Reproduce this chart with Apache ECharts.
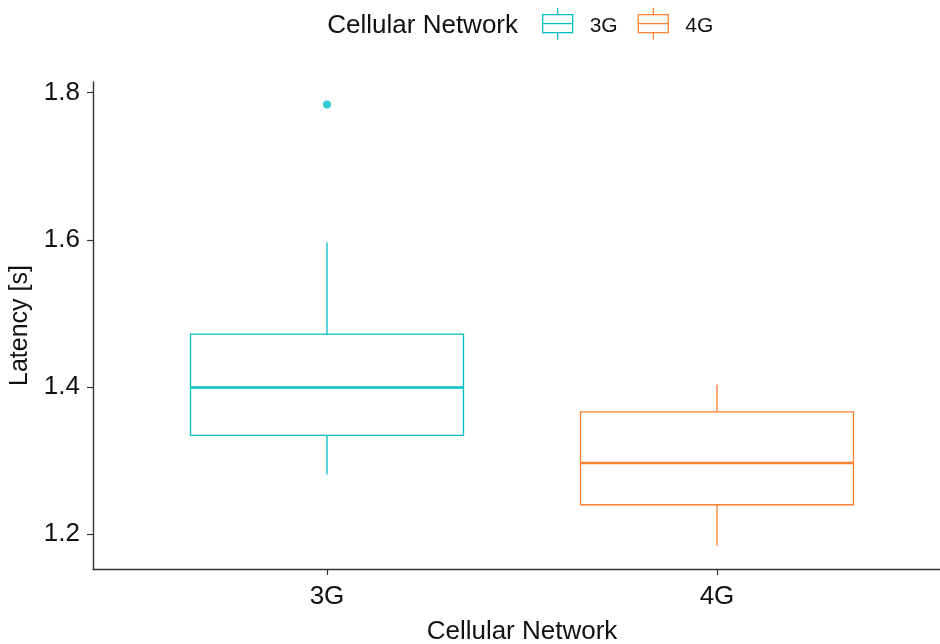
<!DOCTYPE html>
<html>
<head>
<meta charset="utf-8">
<script src="https://cdn.jsdelivr.net/npm/echarts@6/dist/echarts.min.js"></script>
<style>
  html, body { margin: 0; padding: 0; background: #fff; }
  #chart { width: 940px; height: 644px; }
</style>
</head>
<body>
<div id="chart"></div>
<script>
// Latency per cellular network: box-plot summary statistics
const networks = ['3G', '4G'];
// [lowerWhisker, Q1, median, Q3, upperWhisker]
const stats3G = [1.2814, 1.3344, 1.3995, 1.4719, 1.5964];
const stats4G = [1.1845, 1.2402, 1.2968, 1.3664, 1.4036];
const outliers3G = [1.7837];
const outliers4G = [];
const yTicks = [1.2, 1.4, 1.6, 1.8];

const colors = { '3G': '#00BFC4', '4G': '#FF8032' };
const FONT = '"Liberation Sans", Arial, sans-serif';
const BOX_WIDTH = 0.7;

function renderBox(params, api) {
  const x = api.value(0);
  const lo = api.coord([x, api.value(1)]);
  const q1 = api.coord([x, api.value(2)]);
  const md = api.coord([x, api.value(3)]);
  const q3 = api.coord([x, api.value(4)]);
  const hi = api.coord([x, api.value(5)]);
  const half = api.size([BOX_WIDTH, 0])[0] / 2;
  const color = api.visual('color');
  const thin = { stroke: color, lineWidth: 1.3, fill: null };
  return {
    type: 'group',
    children: [
      { type: 'line', shape: { x1: hi[0], y1: hi[1], x2: q3[0], y2: q3[1] }, style: thin },
      { type: 'line', shape: { x1: q1[0], y1: q1[1], x2: lo[0], y2: lo[1] }, style: thin },
      { type: 'rect', shape: { x: q3[0] - half, y: q3[1], width: half * 2, height: q1[1] - q3[1] },
        style: { stroke: color, lineWidth: 1.3, fill: 'rgba(255,255,255,0)' } },
      { type: 'line', shape: { x1: md[0] - half, y1: md[1], x2: md[0] + half, y2: md[1] },
        style: { stroke: color, lineWidth: 2.6 } }
    ]
  };
}

const boxData = { '3G': stats3G, '4G': stats4G };
const outlierData = { '3G': outliers3G, '4G': outliers4G };

const series = [];
networks.forEach(function (name, i) {
  series.push({
    name: name,
    type: 'custom',
    renderItem: renderBox,
    itemStyle: { color: colors[name] },
    encode: { x: 0, y: [1, 2, 3, 4, 5] },
    data: [[i + 1].concat(boxData[name])],
    z: 3
  });
  series.push({
    name: name,
    type: 'scatter',
    symbol: 'circle',
    symbolSize: 8,
    itemStyle: { color: colors[name] },
    data: outlierData[name].map(function (v) { return [i + 1, v]; }),
    z: 4
  });
});

const boxIcon = 'path://M15,0L15,7M0,7L30,7L30,25L0,25ZM0,16L30,16M15,25L15,32';

const chart = echarts.init(document.getElementById('chart'));
chart.setOption({
  animation: false,
  backgroundColor: '#fff',
  textStyle: { fontFamily: FONT },
  grid: { left: 93, top: 82, right: -11, bottom: 75, outerBoundsMode: 'none', containLabel: false },
  graphic: [{
    type: 'text',
    right: 422,
    top: 13,
    style: { text: 'Cellular Network', fontFamily: FONT, fontSize: 26, fill: '#111' }
  }],
  legend: {
    left: 542,
    top: 7,
    padding: 0,
    itemWidth: 30,
    itemHeight: 32,
    itemGap: 20,
    formatter: '{n|{name}}',
    textStyle: {
      fontFamily: FONT, fontSize: 21, color: '#111', padding: [0, 0, 0, 12],
      rich: { n: { fontFamily: FONT, fontSize: 21, color: '#111', padding: [5, 0, 0, 0] } }
    },
    data: networks.map(function (n) {
      return {
        name: n,
        icon: boxIcon,
        itemStyle: { color: 'rgba(0,0,0,0)', borderColor: colors[n], borderWidth: 1.3 }
      };
    })
  },
  xAxis: {
    type: 'value',
    min: 0.4,
    max: 2.6,
    name: 'Cellular Network',
    nameLocation: 'middle',
    nameGap: 50,
    nameTextStyle: { fontFamily: FONT, fontSize: 26, color: '#111' },
    splitLine: { show: false },
    axisLine: { show: true, onZero: false, lineStyle: { color: '#333', width: 1.4 } },
    axisTick: { show: true, length: 6, customValues: [1, 2], lineStyle: { color: '#333', width: 1.2 } },
    axisLabel: {
      customValues: [1, 2],
      margin: 15,
      fontFamily: FONT,
      fontSize: 26,
      color: '#111',
      formatter: function (v) { return networks[Math.round(v) - 1] || ''; }
    }
  },
  yAxis: {
    type: 'value',
    min: 1.1529,
    max: 1.8144,
    name: 'Latency [s]',
    nameLocation: 'middle',
    nameGap: 56,
    nameRotate: 90,
    nameTextStyle: { fontFamily: FONT, fontSize: 25, color: '#111' },
    splitLine: { show: false },
    axisLine: { show: true, onZero: false, lineStyle: { color: '#333', width: 1.4 } },
    axisTick: { show: true, length: 6, customValues: yTicks, lineStyle: { color: '#333', width: 1.2 } },
    axisLabel: {
      customValues: yTicks,
      margin: 13,
      fontFamily: FONT,
      fontSize: 26,
      color: '#111',
      formatter: function (v) { return v.toFixed(1); }
    }
  },
  series: series
});
</script>
</body>
</html>
